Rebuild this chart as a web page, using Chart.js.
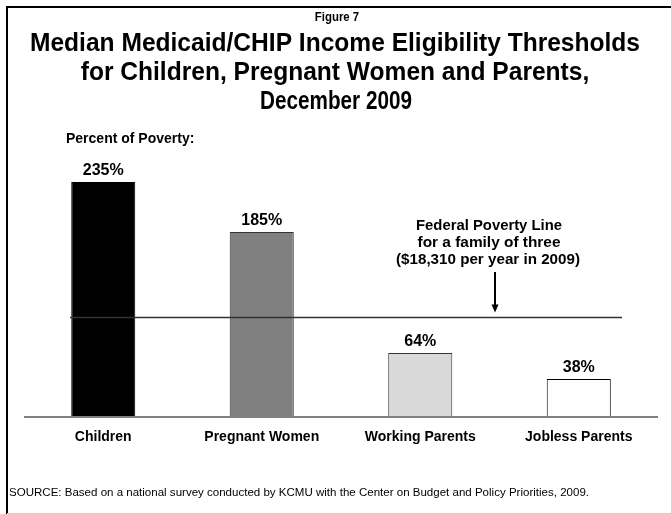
<!DOCTYPE html>
<html>
<head>
<meta charset="utf-8">
<script src="https://cdn.jsdelivr.net/npm/chart.js@4/dist/chart.umd.min.js"></script>
<style>
  html, body { margin: 0; padding: 0; background: #ffffff; }
  #wrap { width: 671px; height: 514px; }
</style>
</head>
<body>
<div id="wrap"><canvas id="chart" width="671" height="514"></canvas></div>
<script>
// Median eligibility thresholds, percent of the federal poverty level
const categories = ['Children', 'Pregnant Women', 'Working Parents', 'Jobless Parents'];
const thresholds = [235, 185, 64, 38];
const valueLabels = ['235%', '185%', '64%', '38%'];
const barColors = ['#000000', '#808080', '#D9D9D9', '#FFFFFF'];
const povertyLevel = 100;

const figureLabel = 'Figure 7';
const titleLines = [
  'Median Medicaid/CHIP Income Eligibility Thresholds',
  'for Children, Pregnant Women and Parents,',
  'December 2009'
];
const axisNote = 'Percent of Poverty:';
const povertyNote = [
  'Federal Poverty Line',
  'for a family of three',
  '($18,310 per year in 2009)'
];
const sourceNote = 'SOURCE: Based on a national survey conducted by KCMU with the Center on Budget and Policy Priorities, 2009.';

const FONT = '"Liberation Sans", Arial, Helvetica, sans-serif';

// Draw text with a horizontal scale factor
function scaledText(ctx, text, x, y, font, sx, align) {
  ctx.save();
  ctx.font = font;
  ctx.translate(x, y);
  ctx.scale(sx, 1);
  ctx.textAlign = align || 'center';
  ctx.textBaseline = 'alphabetic';
  ctx.fillText(text, 0, 0);
  ctx.restore();
}

// Draw text scaled horizontally to a given width
function fitText(ctx, text, x, y, font, width, align) {
  ctx.save();
  ctx.font = font;
  const w = ctx.measureText(text).width;
  ctx.restore();
  scaledText(ctx, text, x, y, font, width ? width / w : 1, align);
}

const decorations = {
  id: 'decorations',
  afterDatasetsDraw(chart) {
    const ctx = chart.ctx;
    const xs = chart.scales.x;
    const ys = chart.scales.y;
    const area = chart.chartArea;
    const meta = chart.getDatasetMeta(0);

    ctx.save();
    // frame
    ctx.strokeStyle = '#000000';
    ctx.lineWidth = 2;
    ctx.beginPath();
    ctx.moveTo(7, 514);
    ctx.lineTo(7, 7);
    ctx.lineTo(671, 7);
    ctx.stroke();
    ctx.strokeStyle = '#d0d0d0';
    ctx.lineWidth = 1;
    ctx.beginPath();
    ctx.moveTo(7, 513.5);
    ctx.lineTo(671, 513.5);
    ctx.stroke();

    // baseline
    const y0 = ys.getPixelForValue(0);
    ctx.strokeStyle = '#808080';
    ctx.lineWidth = 2;
    ctx.beginPath();
    ctx.moveTo(area.left, y0);
    ctx.lineTo(area.right, y0);
    ctx.stroke();

    // federal poverty line
    const yp = Math.round(ys.getPixelForValue(povertyLevel)) + 0.5;
    ctx.strokeStyle = '#333333';
    ctx.lineWidth = 1.3;
    ctx.beginPath();
    ctx.moveTo(70, yp);
    ctx.lineTo(622, yp);
    ctx.stroke();

    // arrow pointing at the poverty line
    const ax = 495;
    ctx.strokeStyle = '#000000';
    ctx.lineWidth = 2;
    ctx.beginPath();
    ctx.moveTo(ax, 272);
    ctx.lineTo(ax, yp - 12);
    ctx.stroke();
    ctx.fillStyle = '#000000';
    ctx.beginPath();
    ctx.moveTo(ax - 3.5, yp - 13);
    ctx.lineTo(ax + 3.5, yp - 13);
    ctx.lineTo(ax, yp - 5);
    ctx.closePath();
    ctx.fill();

    ctx.fillStyle = '#000000';
    // value labels above bars
    meta.data.forEach((bar, i) => {
      scaledText(ctx, valueLabels[i], bar.x, bar.y - 7, 'bold 16px ' + FONT, 1);
    });

    // category labels
    categories.forEach((c, i) => {
      scaledText(ctx, c, xs.getPixelForValue(i), 441, 'bold 14px ' + FONT, 1);
    });

    // titles
    const titleFont = 'bold 25px ' + FONT;
    ctx.font = titleFont;
    const ts = 610 / ctx.measureText(titleLines[0]).width;
    scaledText(ctx, figureLabel, 337, 21, 'bold 12px ' + FONT, 0.95);
    scaledText(ctx, titleLines[0], 335, 51, titleFont, ts);
    scaledText(ctx, titleLines[1], 335, 80, titleFont, ts);
    fitText(ctx, titleLines[2], 336, 109, titleFont, 152);

    scaledText(ctx, axisNote, 66, 143, 'bold 14px ' + FONT, 1, 'left');

    fitText(ctx, povertyNote[0], 489, 230, 'bold 14px ' + FONT, 146);
    fitText(ctx, povertyNote[1], 489, 247, 'bold 14px ' + FONT, 143);
    fitText(ctx, povertyNote[2], 488, 264, 'bold 14px ' + FONT, 184);

    fitText(ctx, sourceNote, 9, 496, '10px ' + FONT, 580, 'left');
    ctx.restore();
  }
};

new Chart(document.getElementById('chart'), {
  type: 'bar',
  data: {
    labels: categories,
    datasets: [{
      data: thresholds,
      backgroundColor: barColors,
      borderColor: ['#000000', '#333333', '#333333', '#000000'],
      borderWidth: 1,
      borderSkipped: 'bottom',
      categoryPercentage: 1,
      barPercentage: 0.404
    }]
  },
  options: {
    responsive: false,
    devicePixelRatio: 1,
    animation: false,
    events: [],
    layout: { padding: { left: 24, right: 13, top: 157, bottom: 97 } },
    plugins: {
      legend: { display: false },
      title: { display: false },
      tooltip: { enabled: false }
    },
    scales: {
      x: { display: false },
      y: { display: false, min: 0, max: 260 }
    }
  },
  plugins: [decorations]
});
</script>
</body>
</html>
